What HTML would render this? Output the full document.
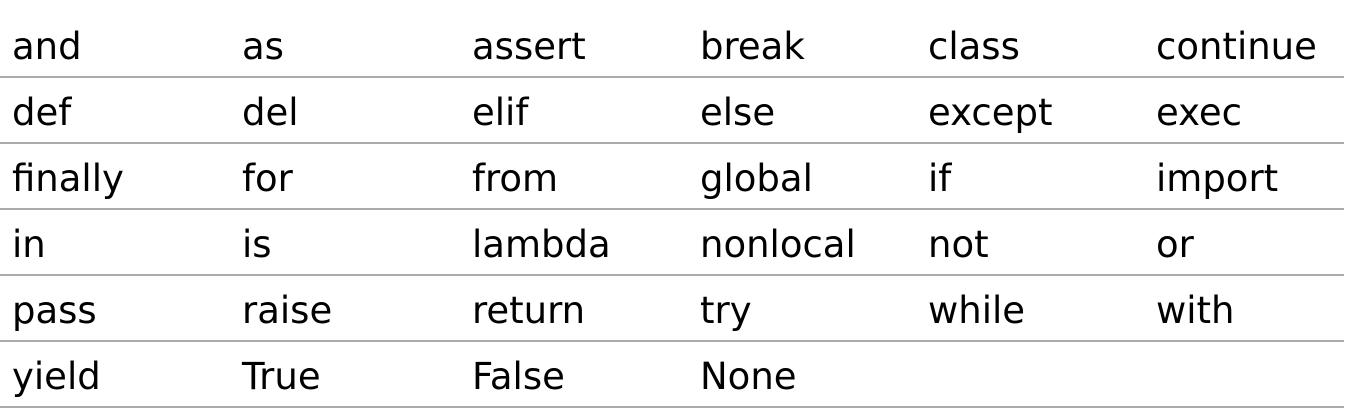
<!DOCTYPE html>
<html><head><style>
html,body{margin:0;padding:0;background:#fff;width:1348px;height:414px;overflow:hidden}
svg{display:block}
text{font-family:"DejaVu Sans","Liberation Sans",sans-serif;font-size:37px;fill:#000}
</style></head><body>
<svg width="1348" height="414" xmlns="http://www.w3.org/2000/svg">
<g fill="#aaa">
<rect x="0" y="76" width="1344" height="2"/>
<rect x="0" y="142" width="1344" height="2"/>
<rect x="0" y="208" width="1344" height="2"/>
<rect x="0" y="274" width="1344" height="2"/>
<rect x="0" y="340" width="1344" height="2"/>
<rect x="0" y="406" width="1344" height="2"/>
</g>
<g>
<text x="12" y="59">and</text><text x="242" y="59">as</text><text x="472" y="59">assert</text><text x="700" y="59">break</text><text x="928" y="59">class</text><text x="1156" y="59">continue</text>
<text x="12" y="125">def</text><text x="242" y="125">del</text><text x="472" y="125">elif</text><text x="700" y="125">else</text><text x="928" y="125">except</text><text x="1156" y="125">exec</text>
<text x="12" y="191">finally</text><text x="242" y="191">for</text><text x="472" y="191">from</text><text x="700" y="191">global</text><text x="928" y="191">if</text><text x="1156" y="191">import</text>
<text x="12" y="257">in</text><text x="242" y="257">is</text><text x="472" y="257">lambda</text><text x="700" y="257">nonlocal</text><text x="928" y="257">not</text><text x="1156" y="257">or</text>
<text x="12" y="323">pass</text><text x="242" y="323">raise</text><text x="472" y="323">return</text><text x="700" y="323">try</text><text x="928" y="323">while</text><text x="1156" y="323">with</text>
<text x="12" y="389">yield</text><text x="242" y="389">True</text><text x="472" y="389">False</text><text x="700" y="389">None</text>
</g>
</svg>
</body></html>
